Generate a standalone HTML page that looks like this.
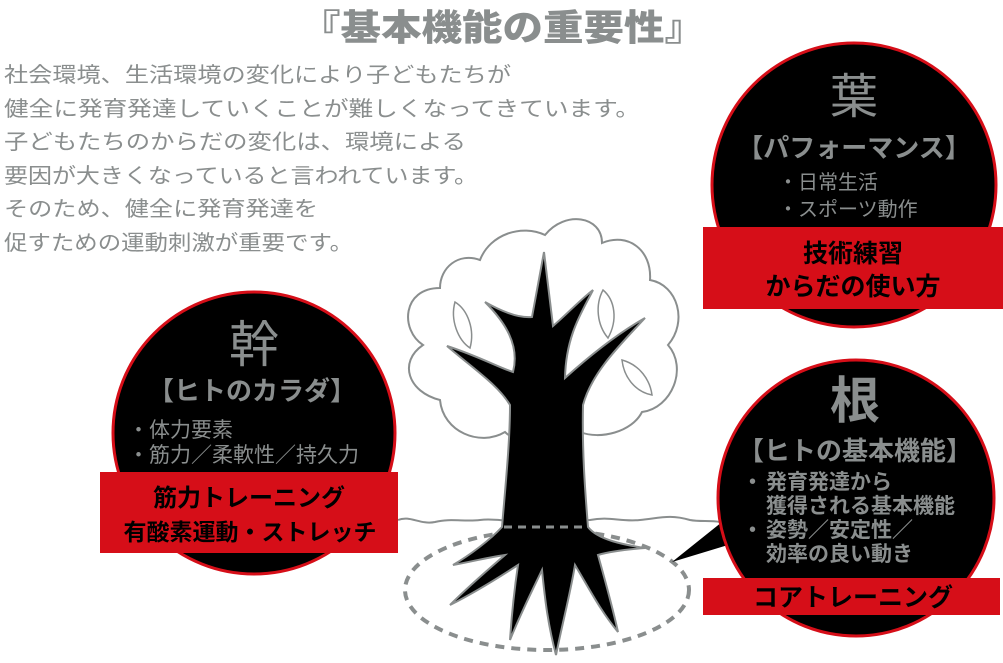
<!DOCTYPE html>
<html><head><meta charset="utf-8"><style>
html,body{margin:0;padding:0;background:#fff;}
svg{display:block;}
text{font-family:"Liberation Sans","Noto Sans CJK JP",sans-serif;}
</style></head><body>
<svg width="1003" height="663" viewBox="0 0 1003 663" xmlns="http://www.w3.org/2000/svg">
<rect width="1003" height="663" fill="#fff"/>
<text x="300" y="40" font-size="36" font-weight="900" fill="#8a8e8e" textLength="405" lengthAdjust="spacingAndGlyphs">『基本機能の重要性』</text>
<g font-size="21" fill="#8a8e8e">
<text x="4" y="82" textLength="507" lengthAdjust="spacingAndGlyphs">社会環境、生活環境の変化により子どもたちが</text>
<text x="4" y="116" textLength="636" lengthAdjust="spacingAndGlyphs">健全に発育発達していくことが難しくなってきています。</text>
<text x="4" y="149" textLength="462" lengthAdjust="spacingAndGlyphs">子どもたちのからだの変化は、環境による</text>
<text x="4" y="183" textLength="474" lengthAdjust="spacingAndGlyphs">要因が大きくなっていると言われています。</text>
<text x="4" y="216" textLength="314" lengthAdjust="spacingAndGlyphs">そのため、健全に発育発達を</text>
<text x="4" y="250" textLength="349" lengthAdjust="spacingAndGlyphs">促すための運動刺激が重要です。</text>
</g>
<path d="M440,400 C408,392 398,362 423,345 C400,330 402,288 440,288 C440,268 458,252 480,260 C490,234 522,224 545,235 C565,210 602,216 602,243 C628,232 652,250 650,280 C678,285 688,322 668,345 C688,368 672,408 642,412 C632,432 600,440 580,432 C560,447 520,447 505,432 C480,447 443,432 440,400 Z" fill="#fff" stroke="#8a8e8e" stroke-width="2"/>
<path d="M398,520 C410,515 420,525 435,522 C450,518 465,522 480,520 C495,518 505,522 520,521 L590,520 C610,516 620,522 640,520 C660,518 670,514 690,520 C700,522 710,520 720,522" fill="none" stroke="#8a8e8e" stroke-width="2"/>
<ellipse cx="547" cy="590" rx="142" ry="60" fill="none" stroke="#8a8e8e" stroke-width="4" stroke-dasharray="9 7"/>
<g fill="#fff" stroke="#8a8e8e" stroke-width="1.5">
<path d="M455,302 C468,310 475,330 470,348 C458,340 450,320 455,302 Z"/>
<path d="M603,290 C615,300 618,320 608,338 C597,325 595,305 603,290 Z"/>
<path d="M622,360 C640,365 650,380 652,395 C636,392 624,378 622,360 Z"/>
</g>
<path d="M502,527 C506,480 510,440 510,405 C498,385 475,370 447,346 C478,356 500,368 513,372 C520,345 505,322 485,302 C508,315 522,318 532,317 L544,252 L553,326 C566,315 580,300 593,290 C582,312 566,335 565,378 C585,360 615,335 645,318 C620,345 592,372 583,405 C582,450 585,490 588,527 C598,540 625,545 645,548 C620,550 605,553 598,555 C605,580 612,605 618,632 C600,610 590,590 575,565 C570,595 562,625 556,655 C548,625 545,600 542,570 C530,595 520,615 510,640 C512,610 515,585 518,565 C495,580 470,595 450,605 C470,585 490,568 505,555 C485,558 470,562 453,565 C470,555 490,540 502,527 Z" fill="#000" stroke="#8a8e8e" stroke-width="2"/>
<line x1="504" y1="527" x2="588" y2="527" stroke="#8a8e8e" stroke-width="3" stroke-dasharray="8 6"/>

<circle cx="854" cy="185" r="142" fill="#000" stroke="#d60e18" stroke-width="3"/>
<text x="854" y="113" text-anchor="middle" font-size="48" fill="#8a8e8e">葉</text>
<text x="854" y="157" text-anchor="middle" font-size="26" font-weight="bold" fill="#8a8e8e">【パフォーマンス】</text>
<text x="778" y="189" font-size="20" fill="#8a8e8e">・日常生活</text>
<text x="778" y="216" font-size="20" fill="#8a8e8e">・スポーツ動作</text>
<rect x="703" y="227" width="300" height="82" fill="#d60e18"/>
<text x="853" y="262" text-anchor="middle" font-size="25" font-weight="bold" fill="#000">技術練習</text>
<text x="853" y="295" text-anchor="middle" font-size="25" font-weight="bold" fill="#000">からだの使い方</text>

<circle cx="254" cy="433" r="141" fill="#000" stroke="#d60e18" stroke-width="3"/>
<text x="254" y="362" text-anchor="middle" font-size="50" fill="#8a8e8e">幹</text>
<text x="252" y="400" text-anchor="middle" font-size="26" font-weight="bold" fill="#8a8e8e">【ヒトのカラダ】</text>
<text x="128" y="437" font-size="21" fill="#8a8e8e">・体力要素</text>
<text x="128" y="462" font-size="21" fill="#8a8e8e">・筋力／柔軟性／持久力</text>
<rect x="100" y="472" width="298" height="81" fill="#d60e18"/>
<text x="249" y="506" text-anchor="middle" font-size="24" font-weight="bold" fill="#000">筋力トレーニング</text>
<text x="250" y="540" text-anchor="middle" font-size="23" font-weight="bold" fill="#000">有酸素運動・ストレッチ</text>

<path d="M722,522 L672,562 L728,545 Z" fill="#000"/>
<circle cx="856" cy="498" r="138" fill="#000" stroke="#d60e18" stroke-width="3"/>
<text x="855" y="418" text-anchor="middle" font-size="50" font-weight="bold" fill="#8a8e8e">根</text>
<text x="855" y="460" text-anchor="middle" font-size="26" font-weight="bold" fill="#8a8e8e">【ヒトの基本機能】</text>
<g font-size="21" font-weight="bold" fill="#8a8e8e">
<text x="742" y="489">・</text>
<text x="766" y="489">発育発達から</text>
<text x="766" y="513">獲得される基本機能</text>
<text x="742" y="537">・</text>
<text x="766" y="537">姿勢／安定性／</text>
<text x="766" y="561">効率の良い動き</text>
</g>
<rect x="703" y="578" width="297" height="37" fill="#d60e18"/>
<text x="853" y="606" text-anchor="middle" font-size="25" font-weight="bold" fill="#000">コアトレーニング</text>
</svg>
</body></html>
